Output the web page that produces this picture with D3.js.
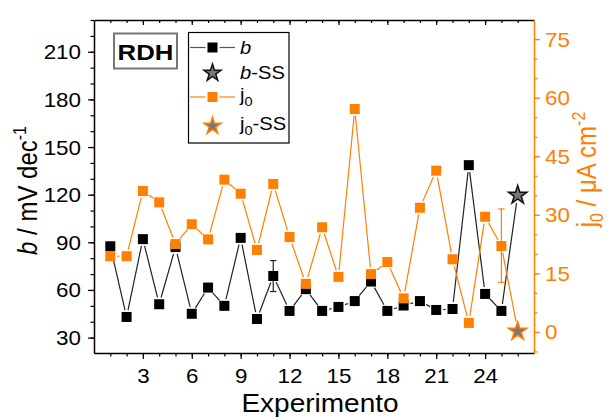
<!DOCTYPE html>
<html>
<head>
<meta charset="utf-8">
<script src="https://cdn.jsdelivr.net/npm/d3@7"></script>
<style>
  html, body { margin: 0; padding: 0; background: #fff; }
  svg { display: block; font-family: "Liberation Sans", Arial, sans-serif; }
</style>
</head>
<body>
<svg id="chart" width="608" height="420"></svg>
<script>
// Experiment numbers and measured values
const experiments = [1,2,3,4,5,6,7,8,9,10,11,12,13,14,15,16,17,18,19,20,21,22,23,24,25];
const bValues  = [87.5,43,92,51,87,45,61.5,50,92.8,41.7,68.8,46.8,60.5,46.8,49.3,53,65.3,46.8,50.2,53,47.4,48,138.6,57.5,46.8];
const j0Values = [19.4,19.4,36.1,33.2,22.5,27.6,23.7,39,35.4,21,37.9,24.3,12.3,26.8,14.1,57.1,14.8,17.9,8.6,31.8,41.3,18.6,2.3,29.5,22];

// Steady-state points (shown as stars)
const ssExperiment = 26;
const bSS = 120.3;
const j0SS = 0.4;

// Error bars: [experiment, low, high]
const bErrors  = [[11, 59, 78.5]];
const j0Errors = [[25, 12.7, 31.5]];

// Axis ticks
const xTicks = [3,6,9,12,15,18,21,24];
const bTicks = [30,60,90,120,150,180,210];
const jTicks = [0,15,30,45,60,75];

const ORANGE = "#FF8000";
const STRETCH = 1.12;

const svg = d3.select("#chart");
const L = 94, R = 534, T = 20, B = 353;

const x  = d3.scaleLinear().domain([0, 27]).range([L, R]);
const yB = d3.scaleLinear().domain([20.3, 230]).range([B, T]);
const yJ = d3.scaleLinear().domain([-5.4, 79.9]).range([B, T]);

// ---------- axes ----------
function stretchLabels(sel, dx, dy, anchor) {
  sel.selectAll(".tick text")
    .attr("x", null).attr("y", null).attr("dy", null)
    .attr("text-anchor", anchor)
    .attr("transform", `translate(${dx},${dy}) scale(${STRETCH},1)`);
}

// minor ticks
const gMinor = svg.append("g");
gMinor.append("g").attr("transform", `translate(0,${B})`)
  .call(d3.axisBottom(x).tickValues(d3.range(1, 27)).tickSize(3.5).tickFormat(""))
  .call(g => g.select(".domain").remove());
gMinor.append("g").attr("transform", `translate(0,${T})`)
  .call(d3.axisTop(x).tickValues(d3.range(1, 27)).tickSize(-3).tickFormat(""))
  .call(g => g.select(".domain").remove());
gMinor.append("g").attr("transform", `translate(${L},0)`)
  .call(d3.axisLeft(yB).tickValues(d3.range(30, 231, 10)).tickSize(3.5).tickFormat(""))
  .call(g => g.select(".domain").remove());
gMinor.append("g").attr("transform", `translate(${R},0)`)
  .call(d3.axisRight(yJ).tickValues(d3.range(-5, 80, 5)).tickSize(3.5).tickFormat(""))
  .call(g => g.select(".domain").remove())
  .call(g => g.selectAll("line").attr("stroke", ORANGE));

// bottom
const gx = svg.append("g").attr("transform", `translate(0,${B})`)
  .call(d3.axisBottom(x).tickValues(xTicks).tickSize(6).tickSizeOuter(0));
stretchLabels(gx, 0, 30, "middle");
gx.selectAll("text").attr("font-size", 20).attr("fill", "#000");

// top
svg.append("g").attr("transform", `translate(0,${T})`)
  .call(d3.axisTop(x).tickValues(xTicks).tickSize(-5).tickSizeOuter(0).tickFormat(""));

// left
const gy = svg.append("g").attr("transform", `translate(${L},0)`)
  .call(d3.axisLeft(yB).tickValues(bTicks).tickSize(6).tickSizeOuter(0));
stretchLabels(gy, -13, 7, "end");
gy.selectAll("text").attr("font-size", 20).attr("fill", "#000");

// right
const gj = svg.append("g").attr("transform", `translate(${R},0)`)
  .call(d3.axisRight(yJ).tickValues(jTicks).tickSize(6).tickSizeOuter(0));
stretchLabels(gj, 11, 7, "start");
gj.selectAll("text").attr("font-size", 20).attr("fill", ORANGE);
gj.selectAll("line").attr("stroke", ORANGE);
gj.select(".domain").attr("stroke", ORANGE);

svg.selectAll(".domain").attr("stroke-width", 1.5);
svg.selectAll(".tick line").attr("stroke-width", 1.2);

// axis titles
svg.append("text")
  .attr("transform", `translate(${(L + R) / 2 + 6},412) scale(${STRETCH},1)`)
  .attr("text-anchor", "middle").attr("font-size", 25)
  .text("Experimento");

const yl = svg.append("text")
  .attr("transform", `translate(37,${(T + B) / 2 + 4}) scale(${STRETCH},1) rotate(-90)`)
  .attr("text-anchor", "middle").attr("font-size", 24);
yl.append("tspan").attr("font-style", "italic").text("b");
yl.append("tspan").text(" / mV dec");
yl.append("tspan").attr("font-size", 16).attr("dy", -10).text("-1");

const jl = svg.append("text")
  .attr("transform", `translate(596,${(T + B) / 2 - 17}) scale(${STRETCH},1) rotate(-90)`)
  .attr("text-anchor", "middle").attr("font-size", 24).attr("fill", ORANGE);
jl.append("tspan").text("j");
jl.append("tspan").attr("font-size", 16).attr("dy", 6).text("0");
jl.append("tspan").attr("dy", -6).text(" / μA cm");
jl.append("tspan").attr("font-size", 16).attr("dy", -10).text("-2");

// ---------- series ----------
const plot = svg.append("g");

function gappedSegments(points, gap) {
  const segs = [];
  for (let i = 0; i < points.length - 1; i++) {
    const [x1, y1] = points[i], [x2, y2] = points[i + 1];
    const dx = x2 - x1, dy = y2 - y1, len = Math.hypot(dx, dy);
    const g1 = points[i][2] ?? gap, g2 = points[i + 1][2] ?? gap;
    if (len <= g1 + g2) continue;
    const ux = dx / len, uy = dy / len;
    segs.push([x1 + ux * g1, y1 + uy * g1, x2 - ux * g2, y2 - uy * g2]);
  }
  return segs;
}

const starPath = d3.symbol().type(d3.symbolStar).size(105)();
const legendStar = d3.symbol().type(d3.symbolStar).size(90)();

function drawSeries(xs, vals, ssVal, yScale, lineColor, fill, errs, starStroke) {
  const pts = xs.map((e, i) => [x(e), yScale(vals[i])]);
  pts.push([x(ssExperiment), yScale(ssVal), 9]);
  const g = plot.append("g");
  g.selectAll("line.seg").data(gappedSegments(pts, 7)).join("line")
    .attr("class", "seg")
    .attr("x1", d => d[0]).attr("y1", d => d[1])
    .attr("x2", d => d[2]).attr("y2", d => d[3])
    .attr("stroke", lineColor).attr("stroke-width", 1.2);
  // error bars
  errs.forEach(([e, lo, hi]) => {
    const cx = x(e);
    g.append("line").attr("x1", cx).attr("x2", cx)
      .attr("y1", yScale(lo)).attr("y2", yScale(hi))
      .attr("stroke", lineColor).attr("stroke-width", 1.2);
    [lo, hi].forEach(v => g.append("line")
      .attr("x1", cx - 3.2).attr("x2", cx + 3.2)
      .attr("y1", yScale(v)).attr("y2", yScale(v))
      .attr("stroke", lineColor).attr("stroke-width", 1.2));
  });
  g.selectAll("rect.pt").data(xs).join("rect")
    .attr("class", "pt")
    .attr("x", (e) => x(e) - 5)
    .attr("y", (e, i) => yScale(vals[i]) - 5)
    .attr("width", 10).attr("height", 10)
    .attr("fill", fill);
  g.append("path").attr("d", starPath)
    .attr("transform", `translate(${x(ssExperiment)},${yScale(ssVal) + 1})`)
    .attr("fill", "#777").attr("stroke", starStroke).attr("stroke-width", 1.5);
}

drawSeries(experiments, bValues, bSS, yB, "#222", "#000", bErrors, "#111");
drawSeries(experiments, j0Values, j0SS, yJ, ORANGE, ORANGE, j0Errors, ORANGE);

// ---------- RDH label ----------
svg.append("rect").attr("x", 114).attr("y", 33.5).attr("width", 63).attr("height", 35)
  .attr("fill", "#fff").attr("stroke", "#777").attr("stroke-width", 2);
svg.append("text")
  .attr("transform", `translate(145.5,59.5) scale(${STRETCH},1)`)
  .attr("text-anchor", "middle").attr("font-size", 23).attr("font-weight", "bold")
  .text("RDH");

// ---------- legend ----------
const lg = svg.append("g");
lg.append("rect").attr("x", 188.5).attr("y", 32.5).attr("width", 100.5).attr("height", 110.5)
  .attr("fill", "#fff").attr("stroke", "#000").attr("stroke-width", 1.2);

const legendItems = [
  { y: 47.5, kind: "square", line: "#555", fill: "#000" },
  { y: 73, kind: "star", stroke: "#111" },
  { y: 97, kind: "square", line: ORANGE, fill: ORANGE },
  { y: 126, kind: "star", stroke: ORANGE }
];
legendItems.forEach(it => {
  if (it.kind === "square") {
    lg.append("line").attr("x1", 190).attr("x2", 205.5).attr("y1", it.y).attr("y2", it.y)
      .attr("stroke", it.line).attr("stroke-width", 1.2);
    lg.append("line").attr("x1", 219.5).attr("x2", 235).attr("y1", it.y).attr("y2", it.y)
      .attr("stroke", it.line).attr("stroke-width", 1.2);
    lg.append("rect").attr("x", 207.5).attr("y", it.y - 5).attr("width", 10).attr("height", 10)
      .attr("fill", it.fill);
  } else {
    lg.append("path").attr("d", legendStar)
      .attr("transform", `translate(212.5,${it.y})`)
      .attr("fill", "#777").attr("stroke", it.stroke).attr("stroke-width", 1.5);
  }
});

function legendText(y) {
  return lg.append("text")
    .attr("transform", `translate(240,${y}) scale(${STRETCH},1)`)
    .attr("font-size", 18);
}
legendText(54).append("tspan").attr("font-style", "italic").text("b");
const t2 = legendText(79);
t2.append("tspan").attr("font-style", "italic").text("b");
t2.append("tspan").text("-SS");
const t3 = legendText(101);
t3.append("tspan").text("j");
t3.append("tspan").attr("font-size", 13).attr("dy", 5).text("0");
const t4 = legendText(130);
t4.append("tspan").text("j");
t4.append("tspan").attr("font-size", 13).attr("dy", 5).text("0");
t4.append("tspan").attr("dy", -5).text("-SS");
</script>
</body>
</html>
